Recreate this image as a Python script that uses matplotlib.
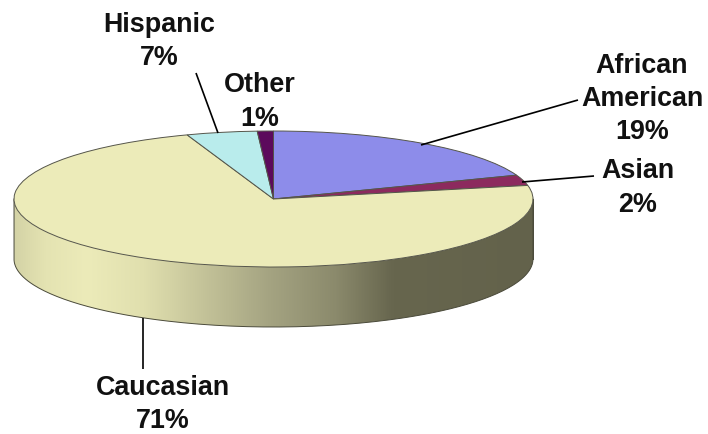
import numpy as np
import matplotlib
matplotlib.use('Agg')
import matplotlib.pyplot as plt
from matplotlib.colors import LinearSegmentedColormap
from matplotlib.patches import Polygon

# slices clockwise from 12 o'clock, sizes as they look in the picture
categories = ['African American', 'Asian', 'Caucasian', 'Hispanic', 'Other']
percent_labels = ['19%', '2%', '71%', '7%', '1%']
drawn_shares = [19.3, 2.5, 72.8, 4.4, 1.0]
slice_colors = ['#8d8cea', '#8c2a5e', '#ecebb9', '#b9ecec', '#5c0a5c']

plt.rcParams['font.family'] = ['Liberation Sans', 'DejaVu Sans']

W, H = 708, 434
cx, cy = 273.5, 199
rx, ry = 259.5, 68
depth = 60

fig = plt.figure(figsize=(W / 100, H / 100), dpi=100)
ax = fig.add_axes([0, 0, 1, 1])


def px(x, y):
    return (x - cx) / rx, (cy - y) / ry


# side wall
t = np.linspace(np.pi, 2 * np.pi, 200)
d = depth / ry
wall = np.r_[np.c_[np.cos(t), np.sin(t)], np.c_[np.cos(t[::-1]), np.sin(t[::-1]) - d]]
wall_cmap = LinearSegmentedColormap.from_list('wall', [
    (0.0, '#d4d3a6'), (0.06, '#e4e3b2'), (0.14, '#ecebb9'), (0.25, '#e0dfae'),
    (0.49, '#a5a482'), (0.62, '#8b8a6c'), (0.73, '#67664e'), (1.0, '#63624b')])
grad = ax.imshow(np.linspace(0, 1, 256)[None, :], cmap=wall_cmap, aspect='auto', zorder=1,
                 extent=(-1, 1, -1 - d, 0.1))
clip = Polygon(wall, closed=True, transform=ax.transData, fc='none', ec='none')
ax.add_patch(clip)
grad.set_clip_path(clip)
ax.plot(np.r_[-1, np.cos(t), 1], np.r_[0, np.sin(t) - d, 0], color='#4a4a3a', lw=0.7, zorder=2)
ax.plot([-1, -1], [0, -d], color='#8a8a70', lw=0.7, zorder=2)
ax.plot([1, 1], [0, -d], color='#4a4a3a', lw=0.7, zorder=2)

# top face
wedges, _ = ax.pie(drawn_shares, colors=slice_colors, startangle=90, counterclock=False,
                   radius=1, wedgeprops=dict(edgecolor='#55554a', linewidth=0.7))
for w in wedges:
    w.set_zorder(3)

ax.set_aspect('auto')
ax.set_xlim(px(0, 0)[0], px(W, 0)[0])
ax.set_ylim(px(0, H)[1], px(0, 0)[1])
ax.axis('off')

# leader lines
leaders = [((421, 145), (578, 100)), ((522, 182), (594, 176)),
           ((143, 318), (143, 369)), ((218, 133), (196, 73))]
for a, b in leaders:
    p, q = px(*a), px(*b)
    ax.plot([p[0], q[0]], [p[1], q[1]], color='black', lw=1.2, zorder=4, solid_capstyle='butt')

# labels
label_pos = {'African American': (642, 99), 'Asian': (638, 188), 'Caucasian': (163, 404.5),
             'Hispanic': (159, 41.5), 'Other': (260, 102)}
for name, pct in zip(categories, percent_labels):
    x, y = px(*label_pos[name])
    txt = name.replace(' ', '\n') + '\n' + pct
    ax.text(x, y, txt, ha='center', va='center', fontsize=19.4, fontweight='bold',
            color='#111111', linespacing=1.36, zorder=5)

fig.savefig('out.png', dpi=100)
